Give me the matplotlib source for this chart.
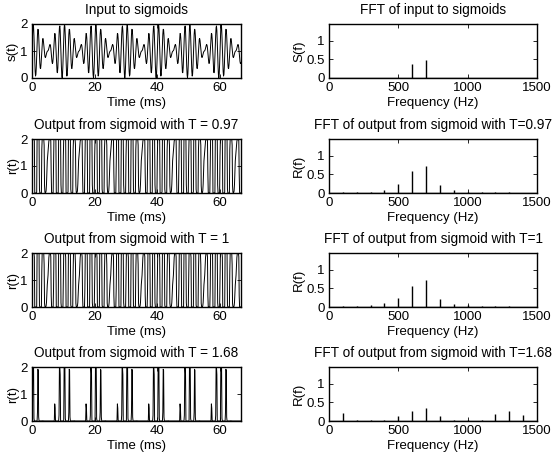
import numpy as np
import matplotlib
matplotlib.use("Agg")
import matplotlib.pyplot as plt

plt.rcParams['font.family'] = ['Liberation Sans', 'DejaVu Sans']
plt.rcParams['font.size'] = 9.5

# input: dc + two tones
dc_level = 1.0
tone_freqs = [600, 700]          # Hz
tone_amps = [0.55, 0.45]
fs = 8000                        # Hz
duration_ms = 66.7
thresholds = [0.97, 1, 1.68]
gain = 25

# spectrum peaks
peak_freqs = [100, 200, 300, 400, 500, 600, 700, 800, 900, 1000, 1100, 1200, 1300, 1400]
spec_input = [0, 0, 0, 0, 0, 0.37, 0.47, 0, 0, 0, 0, 0, 0, 0]
spec_097 = [0.03, 0.03, 0.04, 0.08, 0.24, 0.58, 0.72, 0.22, 0.07, 0.04, 0.02, 0.02, 0.03, 0.0]
spec_100 = [0.02, 0.02, 0.05, 0.11, 0.23, 0.57, 0.73, 0.21, 0.08, 0.05, 0.02, 0.02, 0.02, 0.0]
spec_168 = [0.21, 0.03, 0.03, 0.03, 0.13, 0.28, 0.35, 0.13, 0.03, 0.02, 0.03, 0.18, 0.28, 0.15]

t = np.arange(0, duration_ms, 1000.0 / fs)
s = dc_level + sum(a * np.sin(2 * np.pi * f * t / 1000.0) for f, a in zip(tone_freqs, tone_amps))
outputs = [2.0 / (1 + np.exp(-gain * (s - T))) for T in thresholds]

left_titles = ['Input to sigmoids'] + ['Output from sigmoid with T = %g' % T for T in thresholds]
right_titles = ['FFT of input to sigmoids'] + ['FFT of output from sigmoid with T=%g' % T for T in thresholds]
signals = [s] + outputs
spectra = [spec_input, spec_097, spec_100, spec_168]

fig = plt.figure(figsize=(5.53, 4.61), dpi=100)
W, H = 553.0, 461.0
tops = [24, 139, 253, 367]
ax_h = 54

for i in range(4):
    y0 = 1 - (tops[i] + ax_h) / H
    axl = fig.add_axes([32 / W, y0, 209 / W, ax_h / H])
    axl.plot(t, signals[i], color='k', lw=0.7)
    axl.set_xlim(0, duration_ms)
    axl.set_ylim(0, 2)
    axl.set_yticks([0, 1, 2])
    axl.set_xticks([0, 20, 40, 60])
    axl.set_xlabel('Time (ms)', labelpad=2)
    axl.set_ylabel('s(t)' if i == 0 else 'r(t)', labelpad=1)
    axl.set_title(left_titles[i], fontsize=9.8, pad=7)

    axr = fig.add_axes([329 / W, y0, 208 / W, ax_h / H])
    axr.vlines(peak_freqs, 0, spectra[i], color='k', lw=1.0)
    axr.plot([0, 1500], [0, 0], color='k', lw=1.0)
    axr.set_xlim(0, 1500)
    axr.set_ylim(0, 1.45)
    axr.set_yticks([0, 0.5, 1])
    axr.set_yticklabels(['0', '0.5', '1'])
    axr.set_xticks([0, 500, 1000, 1500])
    axr.set_xlabel('Frequency (Hz)', labelpad=2)
    axr.set_ylabel('S(f)' if i == 0 else 'R(f)', labelpad=1)
    axr.set_title(right_titles[i], fontsize=9.8, pad=7)

    for ax in (axl, axr):
        ax.tick_params(direction='in', top=True, right=True, length=3, width=0.6, pad=3)
        for sp in ax.spines.values():
            sp.set_linewidth(1.0)

fig.savefig('out.png', dpi=100)
